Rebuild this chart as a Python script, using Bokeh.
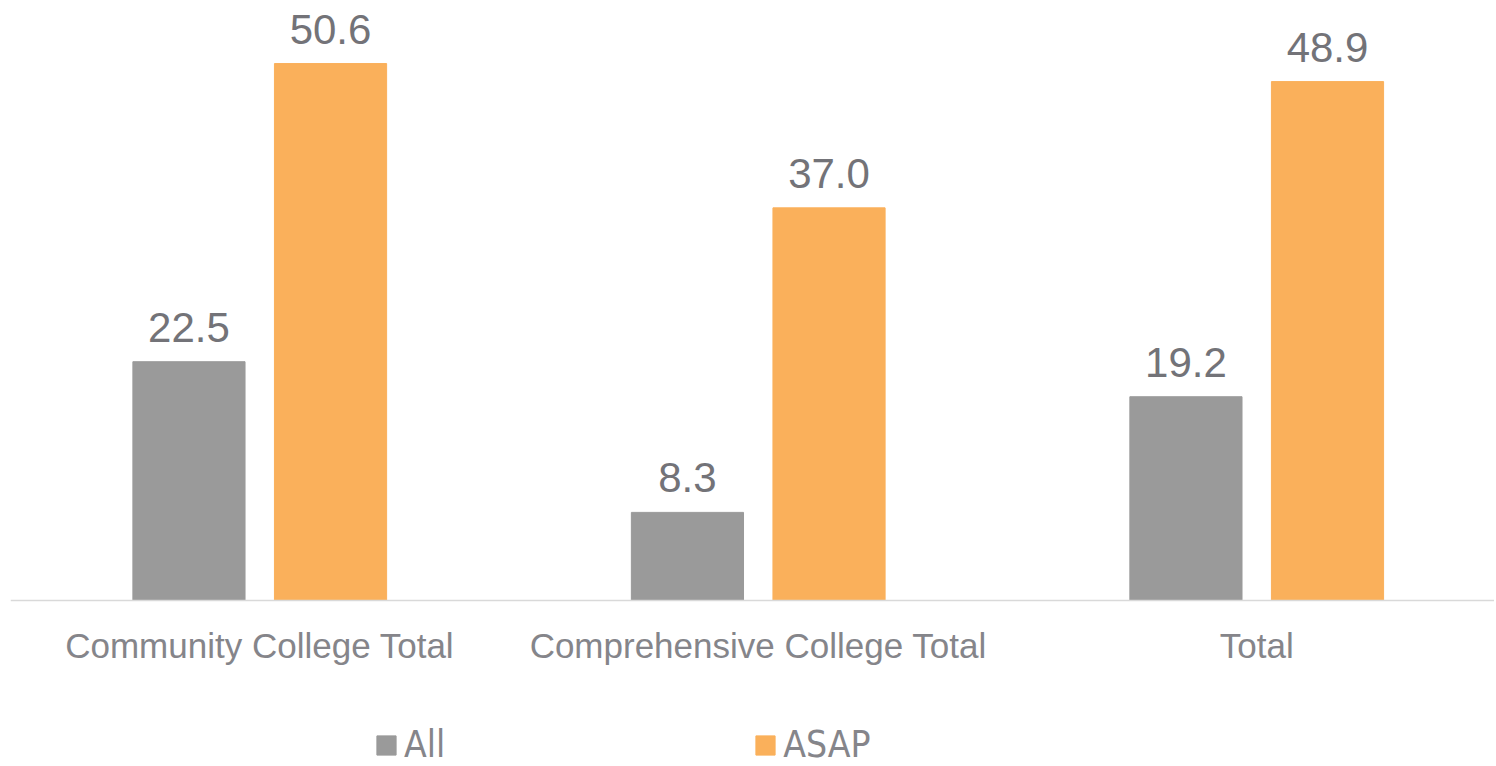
import numpy as np
from bokeh.plotting import figure
from bokeh.models import ColumnDataSource, Range1d, FixedTicker, LabelSet, Legend, LegendItem
from bokeh.core.properties import value
from bokeh.embed import file_html
from bokeh.resources import INLINE

categories = ["Community College Total", "Comprehensive College Total", "Total"]
all_values = [22.5, 8.3, 19.2]
asap_values = [50.6, 37.0, 48.9]
series_names = ["All", "ASAP"]

GRAY = "#9A9A9A"
ORANGE = "#FAB05B"
TEXT_DARK = "#737378"
TEXT_LIGHT = "#85858A"
NARROW = "'Liberation Sans Narrow', 'DejaVu Sans Condensed', 'Liberation Sans', sans-serif"

centers = np.arange(len(categories)) + 0.5
offset = 0.142
bar_w = 0.225

src_all = ColumnDataSource(dict(x=centers - offset, top=all_values,
                                label=[f"{v:.1f}" for v in all_values]))
src_asap = ColumnDataSource(dict(x=centers + offset, top=asap_values,
                                 label=[f"{v:.1f}" for v in asap_values]))

p = figure(frame_width=1484, frame_height=756,
           x_range=Range1d(0, 2.977), y_range=Range1d(-15.65, 55.6),
           output_backend="svg", toolbar_location=None,
           min_border_left=10, min_border_right=0, min_border_top=10,
           min_border_bottom=0)
p.outline_line_color = None
p.background_fill_color = "white"
p.border_fill_color = "white"
p.xgrid.visible = False
p.ygrid.visible = False
p.yaxis.visible = False

r_all = p.vbar(x="x", top="top", width=bar_w, bottom=0, source=src_all, color=GRAY)
r_asap = p.vbar(x="x", top="top", width=bar_w, bottom=0, source=src_asap, color=ORANGE)

for src in (src_all, src_asap):
    p.add_layout(LabelSet(x="x", y="top", text="label", source=src,
                          text_align="center", text_baseline="alphabetic",
                          y_offset=20, text_font=value("Liberation Sans"),
                          text_font_size="42px", text_color=TEXT_DARK))

xa = p.xaxis[0]
xa.fixed_location = 0
xa.ticker = FixedTicker(ticks=list(centers))
xa.major_label_overrides = {float(c): name for c, name in zip(centers, categories)}
xa.major_tick_line_color = None
xa.minor_tick_line_color = None
xa.axis_line_color = "#D9D9D9"
xa.axis_line_width = 1.5
xa.major_label_standoff = 20
xa.major_label_text_font = "Liberation Sans"
xa.major_label_text_font_size = "35px"
xa.major_label_text_color = TEXT_LIGHT

lg = Legend(items=[LegendItem(label=series_names[0], renderers=[r_all]),
                   LegendItem(label=series_names[1], renderers=[r_asap])])
lg.orientation = "horizontal"
lg.location = (364, 0)
lg.border_line_color = None
lg.background_fill_alpha = 0
lg.padding = 0
lg.margin = 0
lg.glyph_width = 24
lg.glyph_height = 24
lg.label_standoff = 6
lg.spacing = 308
lg.label_text_font = NARROW
lg.label_text_font_size = "37px"
lg.label_text_color = TEXT_LIGHT
p.add_layout(lg, "center")

open("out.html", "w").write(file_html(p, INLINE))
